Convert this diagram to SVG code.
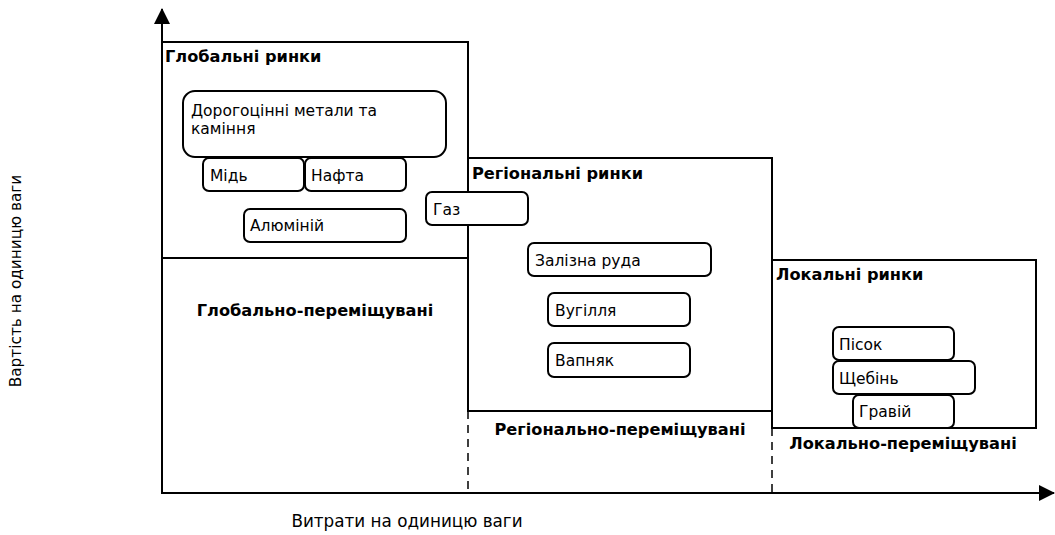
<svg xmlns="http://www.w3.org/2000/svg" width="1055" height="535" viewBox="0 0 1055 535">
<defs>
<style>
text{font-family:"DejaVu Sans",Verdana,sans-serif;font-size:15.5px;fill:#000}
.b{font-weight:bold;font-size:16.2px}
.axl{font-size:15.3px}
.axx{font-size:16.8px}
.zone{fill:none;stroke:#000;stroke-width:2}
.node{fill:#fff;stroke:#000;stroke-width:2}
.ax{fill:none;stroke:#000;stroke-width:2}
.dash{fill:none;stroke:#000;stroke-width:1.5;stroke-dasharray:8,6}
</style>
<marker id="arr" markerWidth="16" markerHeight="16" refX="15" refY="8" orient="auto" markerUnits="userSpaceOnUse">
<path d="M0,0 L16,8 L0,16 Z" fill="#000"/>
</marker>
</defs>
<rect width="1055" height="535" fill="#fff"/>

<g id="zones">
<rect id="global" class="zone" x="162" y="42" width="306" height="216"/>
<line class="zone" x1="162" y1="258" x2="162" y2="493"/>
<rect id="regional" class="zone" x="468" y="158" width="304" height="253"/>
<rect id="local" class="zone" x="772" y="260" width="264" height="168"/>
<line class="dash" x1="468" y1="411" x2="468" y2="493"/>
<line class="dash" x1="772" y1="428" x2="772" y2="493"/>
</g>

<g id="connectors">
<line class="ax" x1="162" y1="494" x2="162" y2="9" marker-end="url(#arr)"/>
<line class="ax" x1="161" y1="493" x2="1054" y2="493" marker-end="url(#arr)"/>
</g>

<g id="labels">
<text class="b" x="165" y="62">Глобальні ринки</text>
<text class="b" x="472" y="179">Регіональні ринки</text>
<text class="b" x="776" y="280">Локальні ринки</text>
<text class="b" x="315" y="316" text-anchor="middle">Глобально-переміщувані</text>
<text class="b" x="620" y="435" text-anchor="middle">Регіонально-переміщувані</text>
<text class="b" x="903" y="449" text-anchor="middle">Локально-переміщувані</text>
<text class="axx" x="407" y="527" text-anchor="middle">Витрати на одиницю ваги</text>
<text class="axl" x="0" y="0" text-anchor="middle" transform="translate(21,281) rotate(-90)">Вартість на одиницю ваги</text>
</g>

<g id="n-precious"><rect class="node" x="183" y="91" width="263" height="66" rx="12"/><text x="191" y="116">Дорогоцінні метали та</text><text x="191" y="134">каміння</text></g>
<g id="n-copper"><rect class="node" x="203" y="158" width="101" height="33" rx="6"/><text x="210" y="181">Мідь</text></g>
<g id="n-oil"><rect class="node" x="305" y="158" width="101" height="33" rx="6"/><text x="311" y="181">Нафта</text></g>
<g id="n-aluminium"><rect class="node" x="244" y="209" width="162" height="33" rx="6"/><text x="250" y="231">Алюміній</text></g>
<g id="n-gas"><rect class="node" x="426" y="192" width="102" height="33" rx="6"/><text x="433" y="215">Газ</text></g>
<g id="n-iron"><rect class="node" x="528" y="243" width="183" height="33" rx="6"/><text x="535" y="266">Залізна руда</text></g>
<g id="n-coal"><rect class="node" x="548" y="293" width="142" height="33" rx="6"/><text x="555" y="316">Вугілля</text></g>
<g id="n-limestone"><rect class="node" x="548" y="343" width="142" height="34" rx="6"/><text x="555" y="366">Вапняк</text></g>
<g id="n-sand"><rect class="node" x="833" y="327" width="121" height="33" rx="6"/><text x="839" y="350">Пісок</text></g>
<g id="n-rubble"><rect class="node" x="833" y="361" width="142" height="33" rx="6"/><text x="839" y="384">Щебінь</text></g>
<g id="n-gravel"><rect class="node" x="853" y="395" width="101" height="33" rx="6"/><text x="859" y="417">Гравій</text></g>
</svg>
